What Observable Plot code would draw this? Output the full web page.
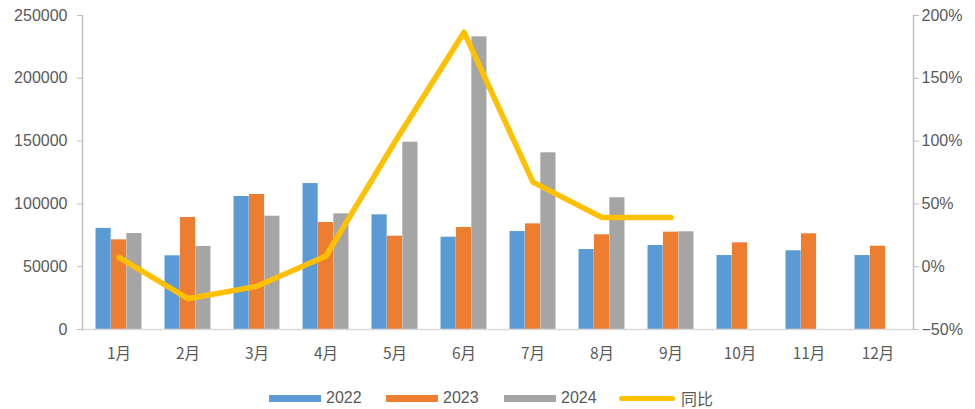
<!DOCTYPE html>
<html><head><meta charset="utf-8">
<script src="https://cdn.jsdelivr.net/npm/d3@7"></script>
<script src="https://cdn.jsdelivr.net/npm/@observablehq/plot@0.6"></script>
<style>
body{margin:0;background:#fff;font-family:"Liberation Sans","Noto Sans CJK SC",sans-serif;}
#chart{position:relative;width:975px;height:409px;overflow:hidden;}
#legend{position:absolute;top:387px;left:0;width:975px;height:22px;}
.item{position:absolute;top:0;display:flex;align-items:center;height:22px;line-height:22px;font-size:16px;color:#595959;white-space:nowrap;}
.sw{display:inline-block;width:52px;height:7px;margin-right:5px;}
.ln{display:inline-block;width:56px;height:5px;border-radius:3px;margin-right:6px;}
.cjk{font-family:"Noto Sans CJK SC",sans-serif;font-size:16px;line-height:22px;}
</style></head><body><div id="chart"></div>
<script>
const months = ["1月","2月","3月","4月","5月","6月","7月","8月","9月","10月","11月","12月"];
const v2022 = [80500, 58700, 105900, 116200, 91300, 73500, 78000, 63700, 66900, 58900, 62700, 58900];
const v2023 = [71400, 89200, 107500, 85200, 74300, 81200, 84100, 75400, 77500, 69000, 76200, 66300];
const v2024 = [76400, 66100, 90200, 92100, 149100, 233000, 140700, 104900, 77800];
const yoy = [7.5, -25.5, -15.6, 8.5, 99.5, 186.7, 67.3, 39.2, 39.2];
const leftTicks = [0, 50000, 100000, 150000, 200000, 250000];
const rightTicks = [-50, 0, 50, 100, 150, 200];
const seriesNames = ["2022", "2023", "2024"];
const lineName = "同比";
const colors = ["#5B9BD5", "#ED7D31", "#A5A5A5"];
const lineColor = "#FFC000";

const W = 975, H = 375, mL = 82, mR = 62, mT = 15, mB = H - 329;
const bw = (W - mL - mR) / months.length;
const barW = 15.4;
const ins = (bw - barW) / 2;
const toLeft = p => (p + 50) * 1000;
const pctFmt = v => { const p = Math.round(v / 1000 - 50); return (p < 0 ? "−" + Math.abs(p) : p) + "%"; };

const series = [v2022, v2023, v2024];
const barMarks = series.map((vals, i) =>
  Plot.barY(vals.map((v, j) => ({month: months[j], value: v})), {
    x: "month", y: "value", fill: colors[i], dx: (i - 1) * barW,
    insetLeft: ins, insetRight: ins
  })
);
const lineData = yoy.map((p, j) => ({month: months[j], p}));

const plot = Plot.plot({
  width: W, height: H,
  marginLeft: mL, marginRight: mR, marginTop: mT, marginBottom: mB,
  style: {fontFamily: "'Liberation Sans','Noto Sans CJK SC',sans-serif", color: "#595959", background: "#fff"},
  x: {domain: months, padding: 0, axis: null},
  y: {domain: [0, 250000], axis: null},
  marks: [
    ...barMarks,
    Plot.ruleY([0], {stroke: "#D9D9D9", strokeWidth: 1.5}),
    Plot.frame({anchor: "left", stroke: "#BFBFBF", strokeWidth: 1.5}),
    Plot.frame({anchor: "right", stroke: "#BFBFBF", strokeWidth: 1.5}),
    Plot.line(lineData, {x: "month", y: d => toLeft(d.p), stroke: lineColor, strokeWidth: 5.5, strokeLinejoin: "round", strokeLinecap: "round"}),
    Plot.axisY(leftTicks, {anchor: "left", tickSize: 5, tickPadding: 10, fontSize: 16, stroke: "#BFBFBF", fill: "#595959", tickFormat: d => String(d), label: null}),
    Plot.axisY(rightTicks.map(toLeft), {anchor: "right", tickSize: 5, tickPadding: 3, fontSize: 16, stroke: "#BFBFBF", fill: "#595959", tickFormat: pctFmt, label: null}),
    Plot.axisX(months, {anchor: "bottom", tickSize: 0, tickPadding: 18, fontSize: 15.5, fontFamily: "Noto Sans CJK SC", fill: "#595959", label: null})
  ]
});
const chart = document.getElementById("chart");
chart.appendChild(plot);

const legend = document.createElement("div");
legend.id = "legend";
const lefts = [269, 386, 504, 619];
seriesNames.forEach((n, i) => {
  const it = document.createElement("div");
  it.className = "item"; it.style.left = lefts[i] + "px";
  it.innerHTML = `<span class="sw" style="background:${colors[i]}"></span><span>${n}</span>`;
  legend.appendChild(it);
});
const li = document.createElement("div");
li.className = "item"; li.style.left = lefts[3] + "px";
li.innerHTML = `<span class="ln" style="background:${lineColor}"></span><span class="cjk">${lineName}</span>`;
legend.appendChild(li);
chart.appendChild(legend);
</script></body></html>
